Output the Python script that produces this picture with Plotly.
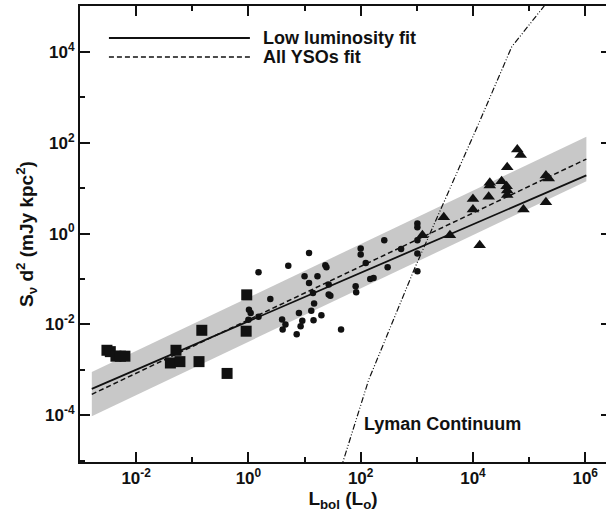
import plotly.graph_objects as go

# ---------------- data (log10 values) ----------------
# Low-luminosity sources (squares)
square_log_lbol = [-2.52, -2.46, -2.36, -2.28, -2.20, -1.39, -1.29, -1.22, -0.88, -0.83, -0.38, -0.04, -0.03]
square_log_s    = [-2.57, -2.60, -2.70, -2.70, -2.70, -2.85, -2.57, -2.82, -2.82, -2.13, -3.08, -2.15, -1.35]

# Intermediate sources (circles)
circle_log_lbol = [0.18, 0.01, 0.04, 0.00, 0.18, 0.39, 0.60, 0.61, 0.66, 0.71, 0.86, 0.90, 0.93, 0.96,
                   1.00, 1.08, 1.08, 1.12, 1.15, 1.17, 1.16, 1.23, 1.30, 1.37, 1.39, 1.43, 1.43, 1.46,
                   1.65, 1.91, 1.92, 2.00, 2.00, 2.09, 2.17, 2.23, 2.42, 2.48, 2.72, 3.01, 3.01, 3.01,
                   3.01, 3.01]
circle_log_s    = [-0.85, -1.68, -1.75, -1.90, -1.83, -1.44, -1.89, -2.11, -2.00, -0.71, -2.22, -1.75,
                   -2.04, -1.92, -0.94, -0.43, -1.09, -1.70, -1.31, -1.54, -1.91, -0.94, -1.80, -0.70,
                   -0.74, -1.12, -1.34, -1.37, -2.11, -1.16, -1.29, -0.33, -0.46, -0.65, -1.00, -0.98,
                   -0.15, -0.74, -0.34, 0.22, 0.14, -0.15, -0.44, -0.83]

# High-luminosity sources (triangles)
triangle_log_lbol = [4.79, 4.85, 4.61, 4.30, 4.30, 4.51, 4.60, 4.61, 4.28, 4.61, 4.00, 4.00, 4.90,
                     5.30, 5.35, 5.30, 3.48, 3.10, 3.59, 4.12]
triangle_log_s    = [1.85, 1.73, 1.46, 1.12, 1.06, 1.15, 1.04, 0.95, 0.81, 0.85, 0.76, 0.53, 0.53,
                     1.28, 1.21, 0.69, 0.36, -0.04, -0.04, -0.26]

# Fits and uncertainty band (end points)
fit_log_lbol = [-2.79, 6.02]
low_fit_log_s = [-3.42, 1.28]
all_fit_log_s = [-3.54, 1.64]
band_upper_log_s = [-3.05, 2.13]
band_lower_log_s = [-4.02, 1.15]

# Lyman continuum curve
lyman_log_lbol = [1.64, 2.14, 2.97, 4.13, 4.69, 5.39]
lyman_log_s    = [-5.20, -3.23, -0.74, 2.50, 4.11, 5.20]

# Axis ticks
x_major = [-2, 0, 2, 4, 6]
x_minor = [-3, -1, 1, 3, 5]
y_major = [-4, -2, 0, 2, 4]
y_minor = [-5, -3, -1, 1, 3, 5]

# ---------------------------------------------------------------------------
p = lambda arr: [10 ** v for v in arr]

BLACK = "#111111"
FONT = "Liberation Sans"

fig = go.Figure()

# grey band
fig.add_trace(go.Scatter(
    x=p(fit_log_lbol + fit_log_lbol[::-1]),
    y=p(band_upper_log_s + band_lower_log_s[::-1]),
    fill="toself", fillcolor="rgb(200,200,200)", line=dict(width=0),
    mode="lines", hoverinfo="skip", showlegend=False))

# fits
fig.add_trace(go.Scatter(x=p(fit_log_lbol), y=p(low_fit_log_s), mode="lines",
                         line=dict(color=BLACK, width=1.8), showlegend=False))
fig.add_trace(go.Scatter(x=p(fit_log_lbol), y=p(all_fit_log_s), mode="lines",
                         line=dict(color=BLACK, width=1.5, dash="5px,3px"), showlegend=False))

# markers
fig.add_trace(go.Scatter(x=p(square_log_lbol), y=p(square_log_s), mode="markers",
                         marker=dict(symbol="square", size=11, color=BLACK), showlegend=False))
fig.add_trace(go.Scatter(x=p(circle_log_lbol), y=p(circle_log_s), mode="markers",
                         marker=dict(symbol="circle", size=6.5, color=BLACK), showlegend=False))
fig.add_trace(go.Scatter(x=p(triangle_log_lbol), y=p(triangle_log_s), mode="markers",
                         marker=dict(symbol="triangle-up", size=11, color=BLACK), showlegend=False))

# Lyman continuum
fig.add_trace(go.Scatter(x=p(lyman_log_lbol), y=p(lyman_log_s), mode="lines",
                         line=dict(color=BLACK, width=1.2, dash="6px,2px,1px,2px,1px,2px"),
                         showlegend=False))

# dummy trace for right-side tick axis
fig.add_trace(go.Scatter(x=[None], y=[None], yaxis="y2", showlegend=False, hoverinfo="skip"))

def sup_labels(vals):
    return ["10<sup>%d</sup>" % v for v in vals]

tickfont = dict(family=FONT, size=17, color=BLACK, weight="bold")

fig.update_layout(
    width=606, height=519,
    margin=dict(l=80, r=0, t=6, b=57),
    paper_bgcolor="white", plot_bgcolor="white",
    font=dict(family=FONT, color=BLACK),
    xaxis=dict(
        type="log", range=[-3.0, 6.37], automargin=False,
        tickmode="array", tickvals=p(x_major), ticktext=sup_labels(x_major),
        ticks="inside", ticklen=10, tickwidth=2, tickcolor=BLACK,
        minor=dict(tickmode="array", tickvals=p(x_minor), ticks="inside", ticklen=5,
                   tickwidth=2, tickcolor=BLACK),
        showline=True, linewidth=2, linecolor=BLACK, mirror="ticks",
        showgrid=False, zeroline=False, tickfont=tickfont,
        title=dict(text="L<sub>bol</sub> (L<sub>o</sub>)", standoff=4,
                   font=dict(family=FONT, size=19, color=BLACK, weight="bold")),
    ),
    yaxis=dict(
        type="log", range=[-5.03, 5.01], automargin=False,
        tickmode="array", tickvals=p(y_major), ticktext=sup_labels(y_major),
        ticks="inside", ticklen=10, tickwidth=2, tickcolor=BLACK,
        minor=dict(tickmode="array", tickvals=p(y_minor), ticks="inside", ticklen=5,
                   tickwidth=2, tickcolor=BLACK),
        showline=True, linewidth=2, linecolor=BLACK, mirror=False,
        showgrid=False, zeroline=False, tickfont=tickfont,
        title=dict(text="S<sub>ν</sub> d<sup>2</sup> (mJy kpc<sup>2</sup>)", standoff=6,
                   font=dict(family=FONT, size=19, color=BLACK, weight="bold")),
    ),
    yaxis2=dict(
        type="log", range=[-5.03, 5.01], overlaying="y", side="right", automargin=False,
        tickmode="array", tickvals=p(y_major), ticks="inside", ticklen=5, tickwidth=2,
        tickcolor=BLACK, showticklabels=False, showline=False, showgrid=False, zeroline=False,
    ),
)

# legend drawn by hand
leg_font = dict(family=FONT, size=18, color=BLACK, weight="bold")
fig.add_shape(type="line", xref="paper", yref="paper", x0=0.055, x1=0.323, y0=0.930, y1=0.930,
              line=dict(color=BLACK, width=2))
fig.add_shape(type="line", xref="paper", yref="paper", x0=0.055, x1=0.323, y0=0.888, y1=0.888,
              line=dict(color=BLACK, width=1.5, dash="5px,3px"))
fig.add_annotation(xref="paper", yref="paper", x=0.344, y=0.930, xanchor="left", yanchor="middle",
                   text="Low luminosity fit", showarrow=False, font=leg_font)
fig.add_annotation(xref="paper", yref="paper", x=0.344, y=0.888, xanchor="left", yanchor="middle",
                   text="All YSOs fit", showarrow=False, font=leg_font)

# Lyman continuum label (log coordinates on log axes)
fig.add_annotation(x=2.03, y=-4.19, xref="x", yref="y", xanchor="left", yanchor="middle",
                   text="Lyman Continuum", showarrow=False, font=leg_font)

fig.write_html("out.html",
               config={"displayModeBar": False},
               post_script="document.body.style.margin='0';document.body.style.padding='0';"
                           "window.dispatchEvent(new Event('resize'));")
